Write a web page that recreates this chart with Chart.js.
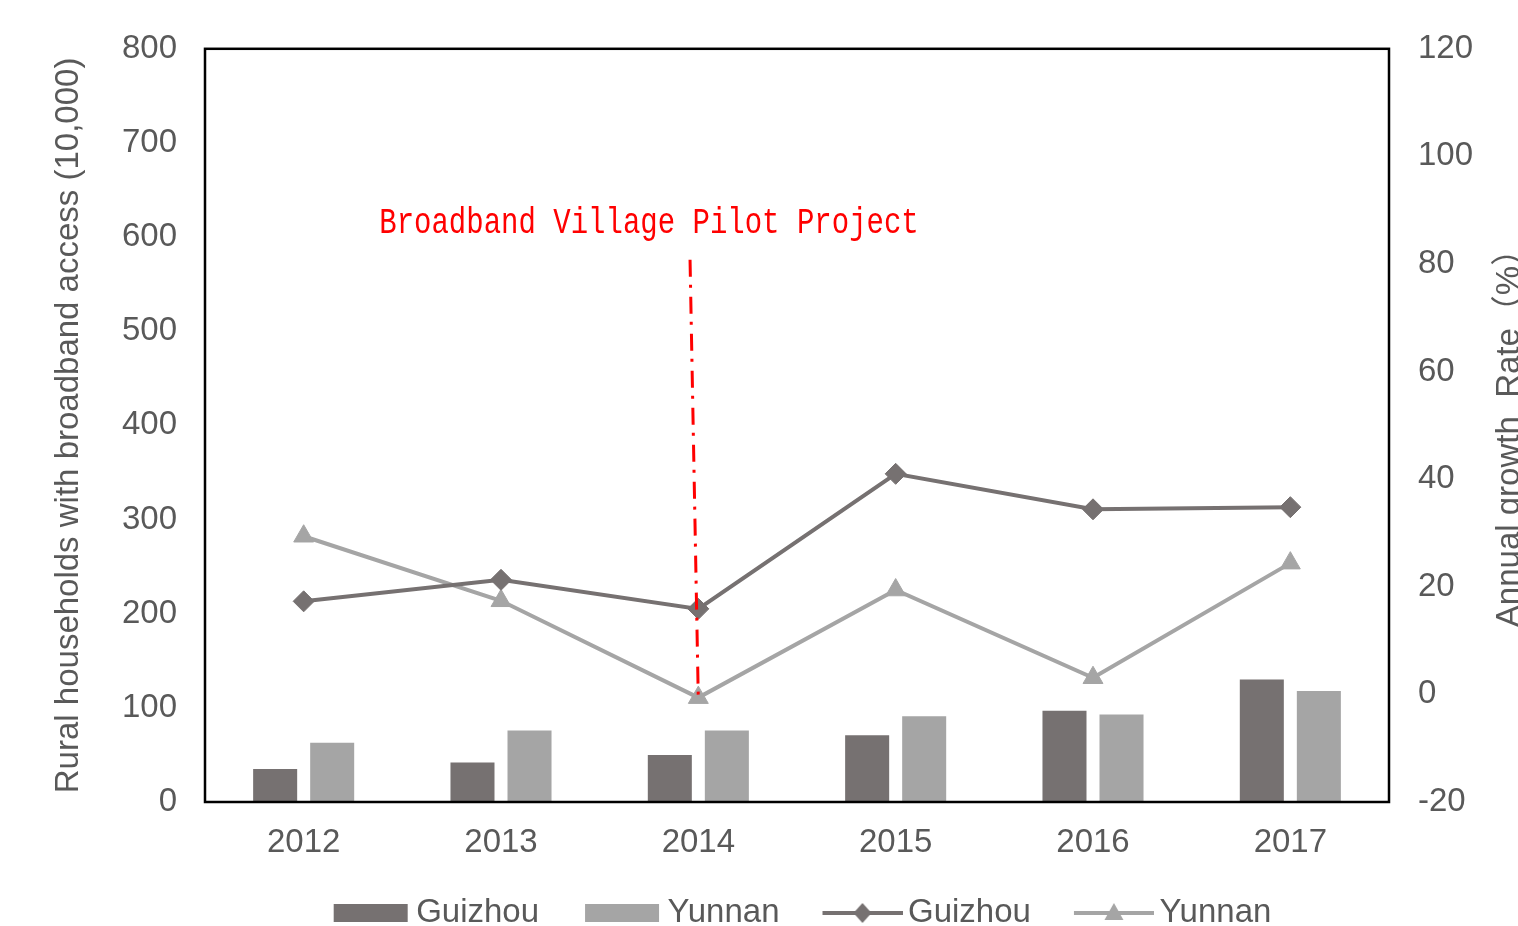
<!DOCTYPE html>
<html><head><meta charset="utf-8">
<script src="https://cdn.jsdelivr.net/npm/chart.js@4.4.1/dist/chart.umd.min.js"></script>
<style>html,body{margin:0;padding:0;background:#fff;overflow:hidden}</style>
</head><body>
<canvas id="c" width="1518" height="926"></canvas>
<script>
// ---- data ----
const years = ['2012', '2013', '2014', '2015', '2016', '2017'];
const guizhouHouseholds = [35, 42, 50, 71, 97, 130];
const yunnanHouseholds = [63, 76, 76, 91, 93, 118];
const guizhouGrowth = [17.3, 21.3, 15.9, 41.0, 34.4, 34.8];
const yunnanGrowth = [29.4, 17.4, -0.6, 19.4, 3.1, 24.4];
const leftTickValues = [0, 100, 200, 300, 400, 500, 600, 700, 800];
const rightTickValues = [-20, 0, 20, 40, 60, 80, 100, 120];
const seriesNames = ['Guizhou', 'Yunnan'];
const leftAxisTitle = 'Rural households with broadband access (10,000)';
const rightAxisTitle = 'Annual growth  Rate\uFF08%\uFF09';
const annotationText = 'Broadband Village Pilot Project';

// ---- styles ----
const DARK = '#767171', LIGHT = '#A5A5A5', TXT = '#595959';
const FONT = '"Liberation Sans", Arial, "Noto Sans CJK SC", sans-serif';

function legendImage(kind, color, marker) {
  const c = document.createElement('canvas');
  c.width = 122; c.height = 26;
  const g = c.getContext('2d');
  g.fillStyle = color; g.strokeStyle = color;
  if (kind === 'bar') {
    g.fillRect(45, 4, 74, 18);
  } else {
    g.lineWidth = 4;
    g.beginPath(); g.moveTo(42, 13); g.lineTo(122, 13); g.stroke();
    g.beginPath();
    if (marker === 'rectRot') {
      g.moveTo(73, 13); g.lineTo(82, 3); g.lineTo(91, 13); g.lineTo(82, 23);
    } else {
      g.moveTo(82, 3); g.lineTo(91.5, 20); g.lineTo(72.5, 20);
    }
    g.closePath(); g.fill();
  }
  return c;
}
const legendImgs = [
  legendImage('bar', DARK), legendImage('bar', LIGHT),
  legendImage('line', DARK, 'rectRot'), legendImage('line', LIGHT, 'triangle')
];

const framePlugin = {
  id: 'frame',
  afterDatasetsDraw(chart) {
    const {ctx, chartArea: a} = chart;
    ctx.save();
    ctx.strokeStyle = '#000'; ctx.lineWidth = 2.5;
    ctx.strokeRect(a.left, a.top, a.right - a.left, a.bottom - a.top);
    ctx.restore();
  }
};

const annotationPlugin = {
  id: 'pilotAnnotation',
  afterDatasetsDraw(chart, args, opts) {
    const {ctx} = chart;
    const x = chart.scales.x, y = chart.scales.y;
    const x1 = x.getPixelForValue(opts.lineTopIndex), y1 = y.getPixelForValue(opts.lineTopValue);
    const x2 = x.getPixelForValue(opts.lineBottomIndex), y2 = y.getPixelForValue(opts.lineBottomValue);
    ctx.save();
    ctx.strokeStyle = '#FF0000'; ctx.lineWidth = 3;
    ctx.setLineDash([17, 8, 3, 9]);
    ctx.beginPath(); ctx.moveTo(x1, y1); ctx.lineTo(x2, y2); ctx.stroke();
    ctx.setLineDash([]);
    const tx = x.getPixelForValue(opts.textIndex), ty = y.getPixelForValue(opts.textValue);
    ctx.translate(tx, ty); ctx.scale(1, 1.3);
    ctx.font = '29px "Liberation Mono", "Courier New", monospace';
    ctx.fillStyle = '#FF0000'; ctx.textAlign = 'center'; ctx.textBaseline = 'alphabetic';
    ctx.fillText(opts.text, 0, 0);
    ctx.restore();
  }
};

const rightTitlePlugin = {
  id: 'rightTitle',
  afterDraw(chart, args, opts) {
    const {ctx} = chart;
    const s = chart.scales.yR;
    ctx.save();
    ctx.translate(s.right - 2, opts.centerY);
    ctx.rotate(-Math.PI / 2);
    ctx.font = '33px ' + FONT;
    ctx.fillStyle = TXT; ctx.textAlign = 'center'; ctx.textBaseline = 'alphabetic';
    ctx.fillText(opts.text, 0, 0);
    ctx.restore();
  }
};

new Chart(document.getElementById('c'), {
  data: {
    labels: years,
    datasets: [
      { type: 'bar', label: seriesNames[0], data: guizhouHouseholds, backgroundColor: DARK, yAxisID: 'y', order: 2,
        categoryPercentage: 0.578, barPercentage: 0.772 },
      { type: 'bar', label: seriesNames[1], data: yunnanHouseholds, backgroundColor: LIGHT, yAxisID: 'y', order: 2,
        categoryPercentage: 0.578, barPercentage: 0.772 },
      { type: 'line', label: seriesNames[0], data: guizhouGrowth, yAxisID: 'yR', order: 1,
        borderColor: DARK, backgroundColor: DARK, borderWidth: 4, tension: 0,
        pointStyle: 'rectRot', pointRadius: 10.5, pointBorderWidth: 1, pointBorderColor: DARK, pointBackgroundColor: DARK },
      { type: 'line', label: seriesNames[1], data: yunnanGrowth, yAxisID: 'yR', order: 1,
        borderColor: LIGHT, backgroundColor: LIGHT, borderWidth: 4, tension: 0,
        pointStyle: 'triangle', pointRadius: 11.5, pointBorderWidth: 1, pointBorderColor: LIGHT, pointBackgroundColor: LIGHT }
    ]
  },
  options: {
    responsive: false, animation: false, devicePixelRatio: 1,
    layout: { padding: { left: 50, right: -3, top: 45, bottom: -13.5 } },
    scales: {
      x: {
        offset: true,
        grid: { display: false, drawTicks: false },
        border: { display: false },
        ticks: { color: TXT, font: { family: FONT, size: 33 }, padding: 21, maxRotation: 0 },
        afterFit(s) { s.height = 82.5; }
      },
      y: {
        position: 'left',
        min: leftTickValues[0], max: leftTickValues[leftTickValues.length - 1],
        afterBuildTicks(s) { s.ticks = leftTickValues.map(v => ({ value: v })); },
        grid: { display: false, drawTicks: false },
        border: { display: false },
        ticks: { color: TXT, font: { family: FONT, size: 33 }, padding: 28 },
        title: { display: true, text: leftAxisTitle, color: TXT, font: { family: FONT, size: 33, lineHeight: 1 }, padding: { top: 2.5, bottom: 0 } },
        afterFit(s) { s.width = 155; }
      },
      yR: {
        position: 'right',
        min: rightTickValues[0], max: rightTickValues[rightTickValues.length - 1],
        afterBuildTicks(s) { s.ticks = rightTickValues.map(v => ({ value: v })); },
        grid: { display: false, drawTicks: false },
        border: { display: false },
        ticks: { color: TXT, font: { family: FONT, size: 33 }, padding: 29 },
        afterFit(s) { s.width = 132; }
      }
    },
    plugins: {
      tooltip: { enabled: false },
      legend: {
        position: 'bottom',
        labels: {
          usePointStyle: true, pointStyleWidth: 100, padding: 12,
          color: TXT, font: { family: FONT, size: 33 },
          generateLabels(chart) {
            return chart.data.datasets.map((ds, i) => ({
              text: ds.label, pointStyle: legendImgs[i], fontColor: TXT,
              hidden: false, datasetIndex: i, lineWidth: 0, strokeStyle: 'transparent', fillStyle: 'transparent'
            }));
          }
        }
      },
      pilotAnnotation: {
        text: annotationText,
        lineTopIndex: 1.958, lineTopValue: 576,
        lineBottomIndex: 2.0, lineBottomValue: 108,
        textIndex: 1.75, textValue: 604
      },
      rightTitle: { text: rightAxisTitle, centerY: 430 }
    }
  },
  plugins: [framePlugin, annotationPlugin, rightTitlePlugin]
});
</script>
</body></html>
